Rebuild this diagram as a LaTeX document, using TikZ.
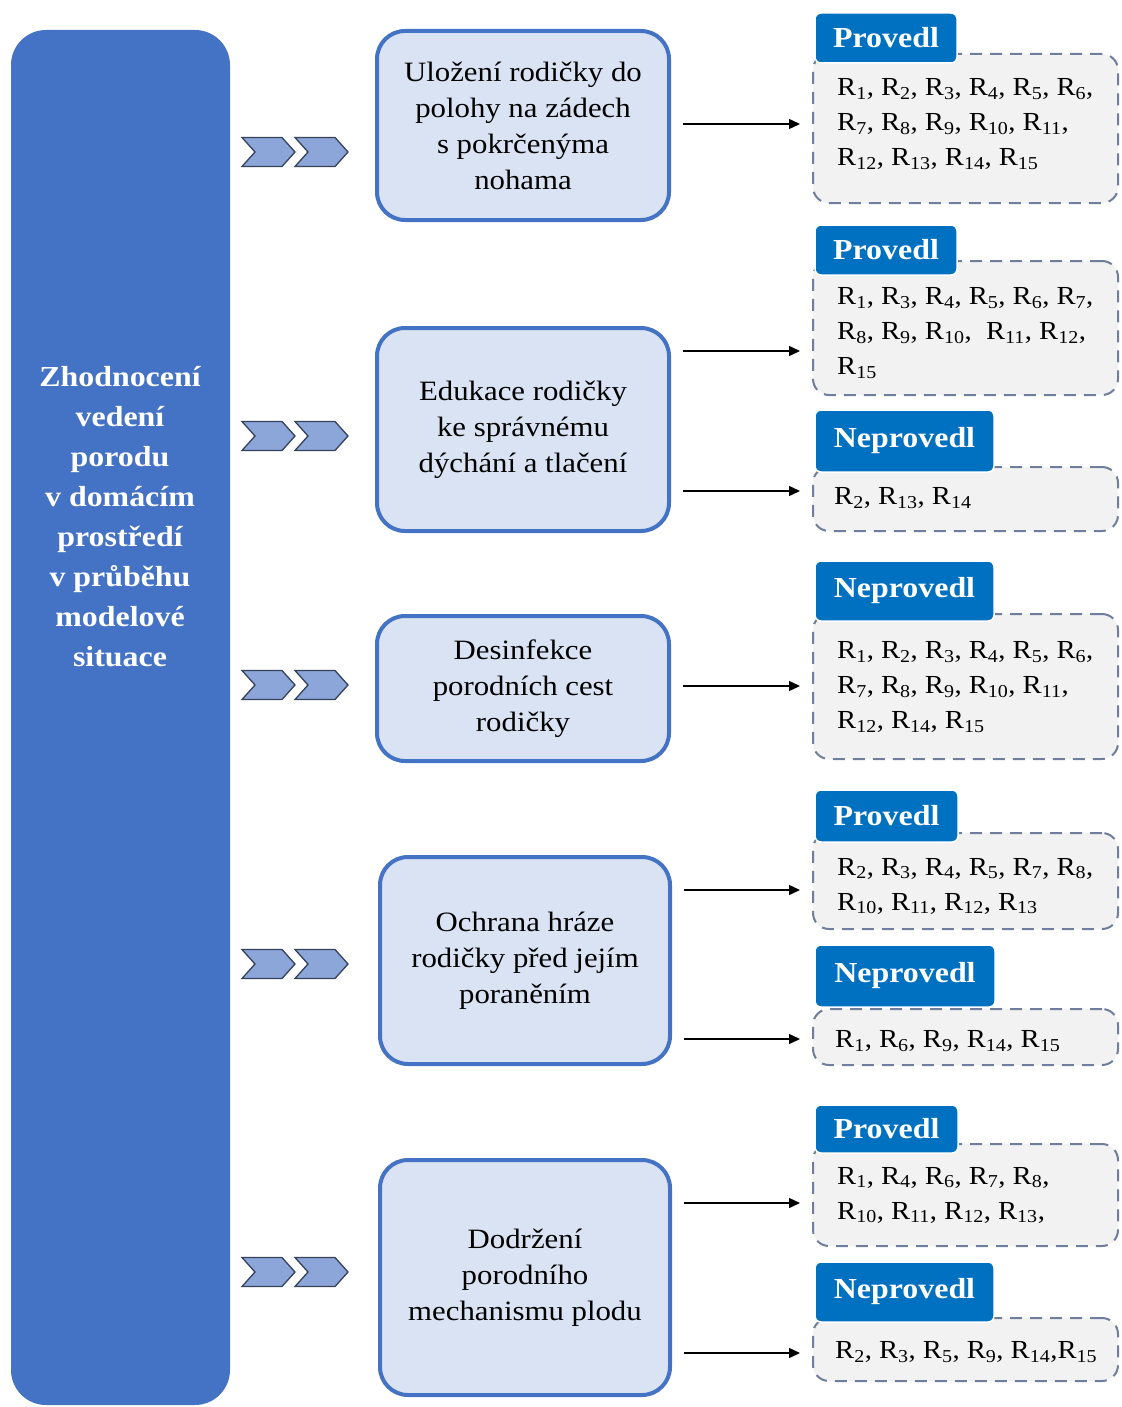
\documentclass[tikz,border=0pt]{standalone}
\usepackage{fontspec}
\setmainfont{Liberation Serif}[FakeStretch=1.1]
\usetikzlibrary{arrows.meta}

\definecolor{colblue}{HTML}{4472C4}
\definecolor{boxfill}{HTML}{DAE3F3}
\definecolor{tagblue}{HTML}{0070C0}
\definecolor{dashgray}{HTML}{6E7E9C}
\definecolor{panelfill}{HTML}{F2F2F2}
\definecolor{chevfill}{HTML}{8CA6DA}
\definecolor{chevline}{HTML}{34425A}

\newcommand\Rsub[1]{R\textsubscript{#1}}

\tikzset{
  leftcol/.style={fill=colblue, rounded corners=35pt, inner sep=0pt},
  coltext/.style={text=white, align=center, font=\bfseries\fontsize{29}{40}\selectfont},
  stepbox/.style={draw=colblue, line width=4pt, fill=boxfill, rounded corners=28pt,
    align=center, inner sep=0pt, font=\fontsize{28}{36}\selectfont},
  panel/.style={draw=dashgray, fill=panelfill, line width=2pt, dash pattern=on 12pt off 8pt,
    rounded corners=16pt, inner sep=0pt},
  paneltext/.style={anchor=west, align=left, inner sep=0pt, font=\fontsize{26}{35}\selectfont},
  tag/.style={fill=tagblue, draw=white, line width=1.5pt, rounded corners=6pt, text=white,
    inner sep=0pt, font=\bfseries\fontsize{29}{30}\selectfont},
  conn/.style={line width=1.4pt, -{Triangle[length=11pt,width=10pt]},
    shorten <=12pt, shorten >=12pt},
  chev/.style={fill=chevfill, draw=chevline, line width=1.3pt, line join=miter},
  chevron/.pic={\filldraw[chev] (0,-14.5) -- (40,-14.5) -- (53,0) -- (40,14.5)
    -- (0,14.5) -- (13,0) -- cycle;}
}

\begin{document}
\begin{tikzpicture}[x=1pt,y=-1pt]
\useasboundingbox (0,0) rectangle (1121,1407);

% left column with the overall title
\node[leftcol, minimum width=219pt, minimum height=1375pt] (col) at (120.5,717.5) {};
\node[coltext] (title) at (120,517)
  {Zhodnocení\\vedení\\porodu\\v domácím\\prostředí\\v průběhu\\modelové\\situace};

% chevrons in front of each step
\foreach \y in {152,436,685,964,1272}{
  \pic at (242,\y) {chevron};
  \pic at (295,\y) {chevron};
}

% steps
\node[stepbox, minimum width=292pt, minimum height=189pt] (m1) at (523,125.5)
  {Uložení rodičky do\\polohy na zádech\\s pokrčenýma\\nohama};
\node[stepbox, minimum width=292pt, minimum height=203pt] (m2) at (523,429.5)
  {Edukace rodičky\\ke správnému\\dýchání a tlačení};
\node[stepbox, minimum width=292pt, minimum height=145pt] (m3) at (523,688.5)
  {Desinfekce\\porodních cest\\rodičky};
\node[stepbox, minimum width=290pt, minimum height=207pt] (m4) at (525,960.5)
  {Ochrana hráze\\rodičky před jejím\\poraněním};
\node[stepbox, minimum width=290pt, minimum height=235pt] (m5) at (525,1277.5)
  {Dodržení\\porodního\\mechanismu plodu};

% result panels
\node[panel, minimum width=305pt, minimum height=149pt] (d1) at (965.5,128.5) {};
\node[panel, minimum width=305pt, minimum height=134pt] (d2) at (965.5,328) {};
\node[panel, minimum width=305pt, minimum height=64pt]  (d3) at (965.5,499) {};
\node[panel, minimum width=305pt, minimum height=145pt] (d4) at (965.5,686.5) {};
\node[panel, minimum width=305pt, minimum height=96pt]  (d5) at (965.5,881) {};
\node[panel, minimum width=305pt, minimum height=56pt]  (d6) at (965.5,1037) {};
\node[panel, minimum width=305pt, minimum height=102pt] (d7) at (965.5,1195) {};
\node[panel, minimum width=305pt, minimum height=63pt]  (d8) at (965.5,1349.5) {};

% panel contents
\node[paneltext] (t1) at (837,124)
  {\Rsub{1}, \Rsub{2}, \Rsub{3}, \Rsub{4}, \Rsub{5}, \Rsub{6},\\
   \Rsub{7}, \Rsub{8}, \Rsub{9}, \Rsub{10}, \Rsub{11},\\
   \Rsub{12}, \Rsub{13}, \Rsub{14}, \Rsub{15}};
\node[paneltext] (t2) at (837,333)
  {\Rsub{1}, \Rsub{3}, \Rsub{4}, \Rsub{5}, \Rsub{6}, \Rsub{7},\\
   \Rsub{8}, \Rsub{9}, \Rsub{10},\ \ \Rsub{11}, \Rsub{12},\\
   \Rsub{15}};
\node[paneltext] (t3) at (834,498)
  {\Rsub{2}, \Rsub{13}, \Rsub{14}};
\node[paneltext] (t4) at (837,687)
  {\Rsub{1}, \Rsub{2}, \Rsub{3}, \Rsub{4}, \Rsub{5}, \Rsub{6},\\
   \Rsub{7}, \Rsub{8}, \Rsub{9}, \Rsub{10}, \Rsub{11},\\
   \Rsub{12}, \Rsub{14}, \Rsub{15}};
\node[paneltext] (t5) at (837,886)
  {\Rsub{2}, \Rsub{3}, \Rsub{4}, \Rsub{5}, \Rsub{7}, \Rsub{8},\\
   \Rsub{10}, \Rsub{11}, \Rsub{12}, \Rsub{13}};
\node[paneltext] (t6) at (835,1041)
  {\Rsub{1}, \Rsub{6}, \Rsub{9}, \Rsub{14}, \Rsub{15}};
\node[paneltext] (t7) at (837,1195)
  {\Rsub{1}, \Rsub{4}, \Rsub{6}, \Rsub{7}, \Rsub{8},\\
   \Rsub{10}, \Rsub{11}, \Rsub{12}, \Rsub{13},};
\node[paneltext] (t8) at (835,1352)
  {\Rsub{2}, \Rsub{3}, \Rsub{5}, \Rsub{9}, \Rsub{14},\Rsub{15}};

% tags over the panels
\node[tag, minimum width=142pt, minimum height=50pt] (l1) at (886,38) {Provedl};
\node[tag, minimum width=142pt, minimum height=50pt] (l2) at (886,250) {Provedl};
\node[tag, minimum width=179pt, minimum height=62pt] (l3) at (904.5,441) {Neprovedl};
\node[tag, minimum width=179pt, minimum height=60pt] (l4) at (904.5,591) {Neprovedl};
\node[tag, minimum width=143pt, minimum height=52pt] (l5) at (886.5,816) {Provedl};
\node[tag, minimum width=180pt, minimum height=62pt] (l6) at (905,976) {Neprovedl};
\node[tag, minimum width=143pt, minimum height=48pt] (l7) at (886.5,1129) {Provedl};
\node[tag, minimum width=179pt, minimum height=60pt] (l8) at (904.5,1292) {Neprovedl};

% connectors from steps to panels
\draw[conn] (m1.east |- 0,124)  -- (d1.west |- 0,124);
\draw[conn] (m2.east |- 0,351)  -- (d2.west |- 0,351);
\draw[conn] (m2.east |- 0,491)  -- (d3.west |- 0,491);
\draw[conn] (m3.east |- 0,686)  -- (d4.west |- 0,686);
\draw[conn] (m4.east |- 0,890)  -- (d5.west |- 0,890);
\draw[conn] (m4.east |- 0,1039) -- (d6.west |- 0,1039);
\draw[conn] (m5.east |- 0,1203) -- (d7.west |- 0,1203);
\draw[conn] (m5.east |- 0,1353) -- (d8.west |- 0,1353);
\end{tikzpicture}
\end{document}
